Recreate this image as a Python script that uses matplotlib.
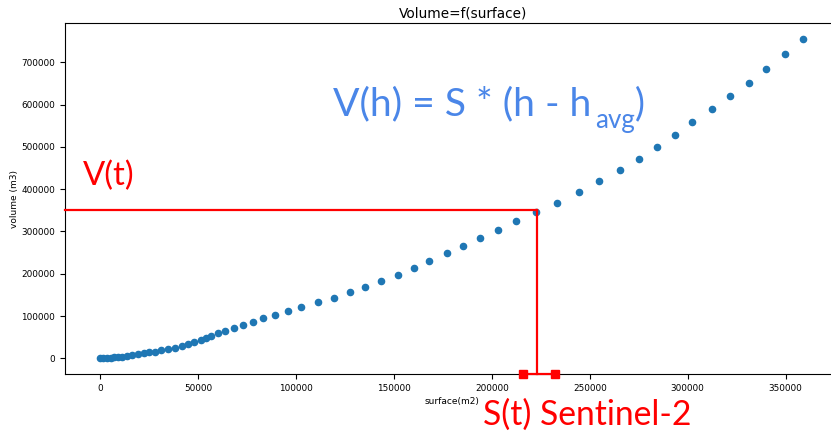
import matplotlib
matplotlib.use("Agg")
import matplotlib.pyplot as plt

# ---- data ----
surface = [0, 1700, 3300, 5300, 7100, 8900, 10900, 13800, 16400, 19500,
           22300, 24900, 27800, 31100, 34600, 38200, 41700, 45000, 47900, 51300,
           53800, 56700, 60100, 63900, 68500, 73100, 78100, 83300, 89400, 95700,
           102700, 111200, 119200, 127600, 135500, 143200, 152000, 160100, 168100, 177100,
           185100, 194100, 203000, 212300, 222400, 233200, 244500, 254900, 265300, 275200,
           284200, 293500, 302400, 312200, 321800, 331100, 340200, 349500, 359100]
volume = [0, 500, 1000, 1200, 2400, 3100, 4300, 6100, 7300, 9500,
          11800, 14200, 16100, 19600, 22000, 25500, 29800, 33300, 38100, 43300,
          47300, 53200, 59100, 65000, 72100, 78700, 86500, 95300, 102400, 112600,
          121300, 132400, 143300, 156300, 169300, 182800, 197700, 213500, 230800, 248300,
          265500, 283800, 302700, 324700, 346700, 367900, 392500, 418500, 444500, 470800,
          498900, 528000, 558800, 588800, 619500, 651700, 684800, 719500, 755000]

S_t = 223200          # Sentinel-2 surface
V_t = 351600          # corresponding volume
S_err = [216100, 232200]  # uncertainty on surface

title = "Volume=f(surface)"
xlabel = "surface(m2)"
ylabel = "volume (m3)"

W, H = 831, 432
fig = plt.figure(figsize=(W / 100, H / 100), dpi=100)
ax = fig.add_axes([65 / W, (H - 374.3) / H, 773.5 / W, 351.2 / H])

ax.scatter(surface, volume, s=20, color="#1f77b4", zorder=3)
ax.set_title(title, fontsize=9.8, x=0.514, pad=4)
ax.set_xlabel(xlabel, fontsize=6.5, labelpad=3)
ax.set_ylabel(ylabel, fontsize=6.5, labelpad=1.5)
ax.tick_params(labelsize=6.4, length=3.5)

fig.canvas.draw()
x0, x1 = ax.get_xlim()
y0, y1 = ax.get_ylim()
ax.set_xlim(x0, x1)
ax.set_ylim(y0, y1)

red = "#ff0000"
ax.plot([x0, S_t], [V_t, V_t], color=red, lw=1.6, clip_on=False, zorder=4)
ax.plot([S_t, S_t], [V_t, y0], color=red, lw=1.6, clip_on=False, zorder=4)
ax.plot(S_err, [y0, y0], color=red, lw=1.6, marker="s", markersize=6,
        clip_on=False, zorder=5)

font = ["Lato", "DejaVu Sans"]


def fit_text(x_px, y_px, s, target_w, color, fs0=24):
    t = fig.text(x_px / W, 1 - y_px / H, s, color=color, fontsize=fs0,
                 family=font, va="baseline", ha="left")
    fig.canvas.draw()
    w = t.get_window_extent().width
    t.set_fontsize(fs0 * target_w / w)
    return t


blue = "#4a86e8"
fit_text(82.7, 185, "V(t)", 52, red)
fit_text(483.3, 425, "S(t) Sentinel-2", 209, red)
fit_text(333, 115, "V(h) = S * (h - h", 259, blue, fs0=27)
fit_text(595, 128, "avg", 40, blue, fs0=19)
fit_text(635, 115, ")", 10, blue, fs0=27)

fig.savefig("out.png", dpi=100)
